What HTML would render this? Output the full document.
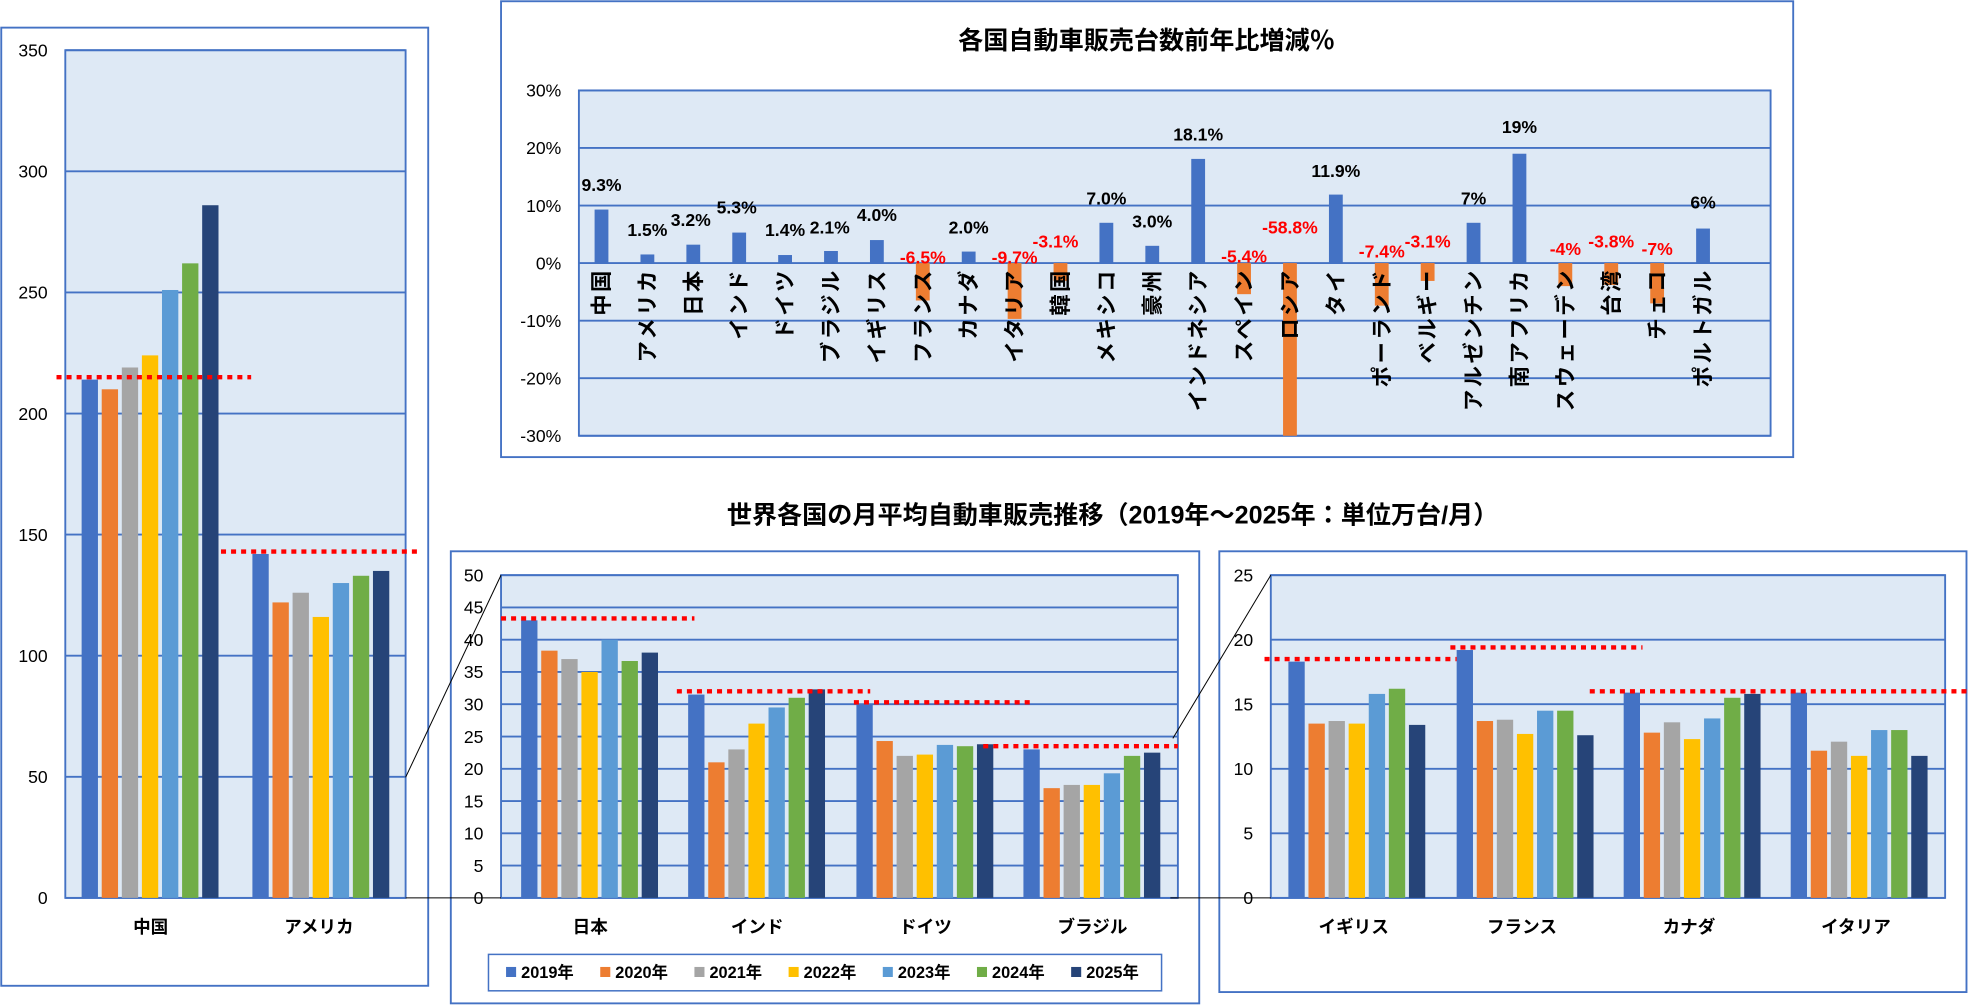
<!DOCTYPE html>
<html><head><meta charset="utf-8"><style>
html,body{margin:0;padding:0;background:#fff;}
svg{display:block;font-family:"Liberation Sans","Noto Sans CJK JP",sans-serif;}
</style></head><body>
<svg id="s" width="1969" height="1005" viewBox="0 0 1568 800.3" preserveAspectRatio="none" xmlns="http://www.w3.org/2000/svg"></svg>
<script>
const C=['#4472c4','#ed7d31','#a5a5a5','#ffc000','#5b9bd5','#70ad47','#264478'];
let h='';
function rect(x,y,w,hh,f,st){h+=`<rect x="${x}" y="${y}" width="${w}" height="${hh}" fill="${f}" ${st||''}/>`;}
function line(x1,y1,x2,y2,s,w,extra){h+=`<line x1="${x1}" y1="${y1}" x2="${x2}" y2="${y2}" stroke="${s}" stroke-width="${w}" ${extra||''}/>`;}
function text(x,y,t,o){o=o||{};h+=`<text x="${x}" y="${y}" font-size="${o.fs||14}" text-anchor="${o.a||'middle'}" fill="${o.c||'#000'}" font-weight="${o.fw||'normal'}" ${o.ls?`letter-spacing="${o.ls}"`:''} ${o.tr?`transform="${o.tr}"`:''}>${t}</text>`;}
const B='#4472c4';
function panel(bx,by,bw,bh,px,py,pw,ph,max,step,fmt,labx){
  rect(bx,by,bw,bh,'#fff',`stroke="${B}" stroke-width="1.5"`);
  rect(px,py,pw,ph,'#dee9f5',`stroke="${B}" stroke-width="1.5"`);
  for(let v=0;v<=max;v+=step){const y=py+ph-v/max*ph;line(px,y,px+pw,y,B,1.5);text(labx,y+5,fmt(v),{a:'end',fs:14});}
}
function bars(px,py,ph,max,x0,vals,w,stp){vals.forEach((v,i)=>{const hh=v/max*ph;rect(x0+i*stp,py+ph-hh,w,hh,C[i]);});}
function red(x1,x2,y){line(x1,y,x2,y,'#ff0000',3.5,'stroke-dasharray="4,4"');}
panel(1,22,340,763,52,40,271,675,350,50,v=>v,38);
bars(52,40,675,350,65,[214,210,219,224,251,262,286],13,16);
bars(52,40,675,350,201,[142,122,126,116,130,133,135],13,16);
red(45,200,715-215*675/350);red(176,333,715-143*675/350);
text(120,743,'中国',{fw:'bold'});text(254,743,'アメリカ',{fw:'bold'});
panel(359,439,596,360,399,458,539,257,50,5,v=>v,385);
const mg=[[43,38.3,37,35,40,36.7,38],[31.5,21,23,27,29.5,31,32.3],[30,24.3,22,22.2,23.7,23.5,23.8],[23,17,17.5,17.5,19.3,22,22.5]];
const mc=[470,603,737,870],mn=['日本','インド','ドイツ','ブラジル'];
mg.forEach((g,i)=>{bars(399,458,257,50,mc[i]-55,g,13,16);text(mc[i],743,mn[i],{fw:'bold'});});
const my=v=>715-v*257/50;
red(399,553,my(43.3));red(539,693,my(32));red(680,822,my(30.3));red(783,938,my(23.5));
rect(389,760,536,29,'#fff',`stroke="${B}" stroke-width="1.2"`);
['2019年','2020年','2021年','2022年','2023年','2024年','2025年'].forEach((t,i)=>{const x=403+i*75;rect(x,770,8,8,C[i]);text(x+12,779,t,{a:'start',fs:13,fw:'bold'});});
panel(971,439,595,351,1012,458,537,257,25,5,v=>v,998);
const rg=[[18.3,13.5,13.7,13.5,15.8,16.2,13.4],[19.2,13.7,13.8,12.7,14.5,14.5,12.6],[15.9,12.8,13.6,12.3,13.9,15.5,15.8],[15.9,11.4,12.1,11,13,13,11]];
const rc=[1078,1212,1345,1478],rn=['イギリス','フランス','カナダ','イタリア'];
rg.forEach((g,i)=>{bars(1012,458,257,25,rc[i]-52,g,13,16);text(rc[i],743,rn[i],{fw:'bold'});});
const ry=v=>715-v*257/25;
red(1007,1160,ry(18.5));red(1155,1308,ry(19.4));red(1266,1566,ry(16));
line(323,619,399,458,'#000',0.8);line(323,715,399,715,'#000',0.8);
line(934,588,1012,458,'#000',0.8);line(932,715,1012,715,'#000',0.8);
text(886,417,'世界各国の月平均自動車販売推移（2019年～2025年：単位万台/月）',{fs:20,fw:'bold'});
rect(399,1,1029,363,'#fff',`stroke="${B}" stroke-width="1.5"`);
text(913,39,'各国自動車販売台数前年比増減％',{fs:20,fw:'bold'});
rect(461,72,949,275,'#dee9f5',`stroke="${B}" stroke-width="1.5"`);
const ty=v=>209.5-v*275/60;
for(let v=-30;v<=30;v+=10){line(461,ty(v),1410,ty(v),B,1.5);text(447,ty(v)+5,v+'%',{a:'end',fs:14});}
const tn=['中国','アメリカ','日本','インド','ドイツ','ブラジル','イギリス','フランス','カナダ','イタリア','韓国','メキシコ','豪州','インドネシア','スペイン','ロシア','タイ','ポーランド','ベルギー','アルゼンチン','南アフリカ','スウェーデン','台湾','チェコ','ポルトガル'];
const tv=[9.3,1.5,3.2,5.3,1.4,2.1,4.0,-6.5,2.0,-9.7,-3.1,7.0,3.0,18.1,-5.4,-58.8,11.9,-7.4,-3.1,7,19,-4,-3.8,-7,6];
const tl=['9.3%','1.5%','3.2%','5.3%','1.4%','2.1%','4.0%','-6.5%','2.0%','-9.7%','-3.1%','7.0%','3.0%','18.1%','-5.4%','-58.8%','11.9%','-7.4%','-3.1%','7%','19%','-4%','-3.8%','-7%','6%'];
const ly=[152,188,180,170,188,186,176,210,186,210,197,163,181,112,209,186,141,205,197,163,106,203,197,203,166];
const lx=[0,0,-2,-2,0,-1,0,0,0,0,-4,0,0,0,0,0,0,0,0,0,0,0,0,0,0];
tv.forEach((v,i)=>{const cx=479+i*36.55;const vv=Math.max(v,-30);
  const y0=ty(0),y1=ty(vv);rect(cx-5.5,Math.min(y0,y1),11,Math.abs(y1-y0),v>=0?'#4472c4':'#ed7d31');
  text(cx+lx[i],ly[i],tl[i],{fs:14,c:v>=0?'#000':'#ff0000',fw:'bold'});
  text(0,0,tn[i],{a:'end',fs:17,fw:'bold',ls:2,tr:`translate(${cx+6},${y0+4}) rotate(-90)`});
});
document.getElementById('s').innerHTML=h;
</script>
</body></html>
